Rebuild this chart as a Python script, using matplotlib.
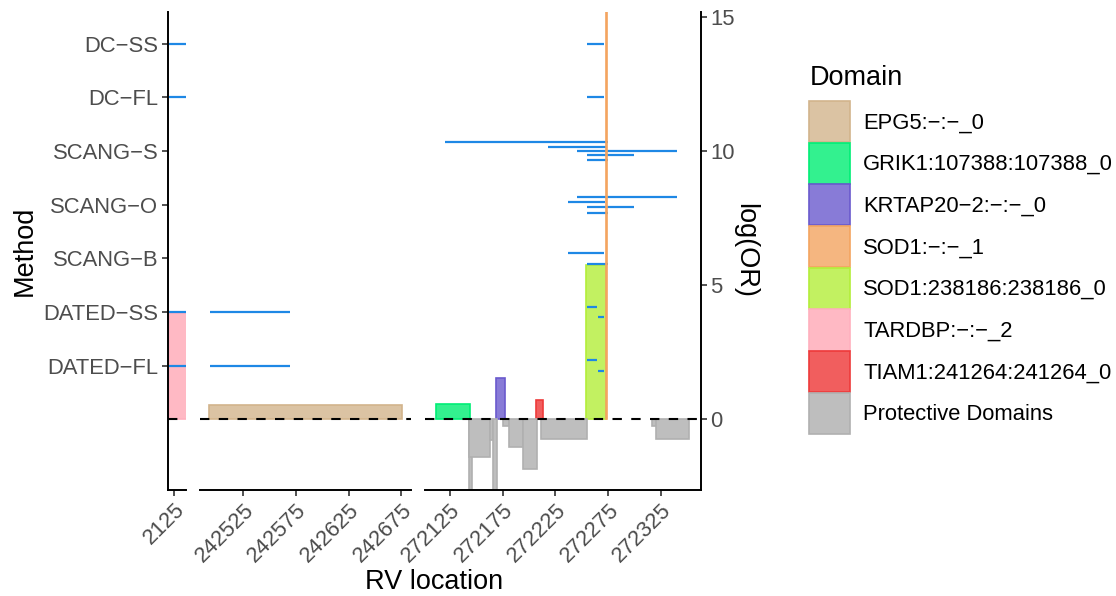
import matplotlib
matplotlib.use("Agg")
import matplotlib.pyplot as plt
from matplotlib.patches import Rectangle, Patch

plt.rcParams['font.family'] = ['Liberation Sans', 'DejaVu Sans']

# methods sit on the log(OR) scale, two units apart
methods = ["DATED−FL", "DATED−SS", "SCANG−B", "SCANG−O", "SCANG−S", "DC−FL", "DC−SS"]
method_y = [2, 4, 6, 8, 10, 12, 14]

domains = ["EPG5:−:−_0", "GRIK1:107388:107388_0", "KRTAP20−2:−:−_0", "SOD1:−:−_1",
           "SOD1:238186:238186_0", "TARDBP:−:−_2", "TIAM1:241264:241264_0",
           "Protective Domains"]
domain_fill = ["#DBC3A3", "#33F18F", "#887BD7", "#F5B680", "#C2F161", "#FFB9C4",
               "#F15E5E", "#BEBEBE"]
domain_edge = ["#D2B48C", "#00EE76", "#6A5ACD", "#F4A460", "#B3EE3A", "#FFB0BE",
               "#EE3B3B", "#B0B0B0"]

# domain rectangles (RV start, RV end, log(OR))
rect_domain = ["TARDBP:−:−_2", "EPG5:−:−_0",
               "GRIK1:107388:107388_0", "KRTAP20−2:−:−_0", "TIAM1:241264:241264_0",
               "SOD1:238186:238186_0", "SOD1:−:−_1",
               "Protective Domains", "Protective Domains", "Protective Domains",
               "Protective Domains", "Protective Domains", "Protective Domains",
               "Protective Domains", "Protective Domains", "Protective Domains",
               "Protective Domains"]
rect_start = [2120.5, 242492.5,
              272111.7, 272168.9, 272206.6,
              272253.7, 272272.7,
              272143.3, 272143.3, 272163.0, 272166.1, 272175.6, 272181.3,
              272194.5, 272211.3, 272316.9, 272320.4]
rect_end = [2137.0, 242675.9,
            272144.0, 272176.9, 272213.0,
            272272.7, 272274.0,
            272146.2, 272163.0, 272166.1, 272169.9, 272181.3, 272194.5,
            272207.8, 272254.7, 272321.1, 272351.8]
rect_logor = [3.95, 0.55,
              0.58, 1.53, 0.73,
              5.75, 16.0,
              -3.5, -1.41, -0.77, -3.5, -0.24, -1.03,
              -1.86, -0.74, -0.24, -0.74]

# RV spans found by each method
seg_method = ["DC−SS", "DC−FL", "DATED−SS", "DATED−FL",
              "DATED−SS", "DATED−FL",
              "DC−SS", "DC−FL",
              "SCANG−S", "SCANG−S", "SCANG−S", "SCANG−S", "SCANG−S",
              "SCANG−O", "SCANG−O", "SCANG−O", "SCANG−O",
              "SCANG−B", "SCANG−B",
              "DATED−SS", "DATED−SS", "DATED−FL", "DATED−FL"]
seg_start = [2120.5, 2120.5, 2120.5, 2120.5,
             242493.5, 242493.5,
             272254.7, 272254.7,
             272120.3, 272218.3, 272245.8, 272254.7, 272254.7,
             272245.8, 272236.7, 272254.7, 272254.7,
             272237.2, 272254.7,
             272254.7, 272265.7, 272254.7, 272265.7]
seg_end = [2136.5, 2136.5, 2136.5, 2136.5,
           242569.0, 242569.0,
           272271.4, 272271.4,
           272274.6, 272272.7, 272340.7, 272299.6, 272274.6,
           272340.7, 272271.8, 272299.6, 272274.6,
           272271.4, 272274.6,
           272264.5, 272271.4, 272264.5, 272271.4]

panel_ticks = [[2125], [242525, 242575, 242625, 242675],
               [272125, 272175, 272225, 272275, 272325]]
panel_xlim = [(2119.3, 2136.4), (242483.9, 242683.8), (272101.3, 272362.9)]
right_ticks = [0, 5, 10, 15]

TXT, TTL = 15.8, 19.5

W, H = 1116, 596
fig = plt.figure(figsize=(W / 100, H / 100), dpi=100)

# panel extents in pixels (left, right)
panel_px = [(168, 186), (200, 410.7), (425, 700.7)]
top_px, bot_px = 12, 489.5
ylim = (-2.61, 15.18)

fill_of = dict(zip(domains, domain_fill))
edge_of = dict(zip(domains, domain_edge))
ypos_of = dict(zip(methods, method_y))

axes = []
for i, (l, r) in enumerate(panel_px):
    ax = fig.add_axes([l / W, (H - bot_px) / H, (r - l) / W, (bot_px - top_px) / H])
    ax.set_xlim(*panel_xlim[i])
    ax.set_ylim(*ylim)
    lo, hi = panel_xlim[i]

    # domain rectangles
    for d, s, e, v in zip(rect_domain, rect_start, rect_end, rect_logor):
        if s > hi or e < lo:
            continue
        z = 2.5 if d == "SOD1:−:−_1" else 1
        ax.add_patch(Rectangle((s, 0), e - s, v, facecolor=fill_of[d],
                               edgecolor=edge_of[d], lw=1.2, zorder=z))

    # method segments, dodged within each method
    idx = [k for k in range(len(seg_method)) if lo <= seg_start[k] <= hi]
    for m in methods:
        rows = [k for k in idx if seg_method[k] == m]
        n = len(rows)
        for j, k in enumerate(rows):
            y = ypos_of[m] + ((n - 1) / 2 - j) * 0.8 / n if n > 1 else ypos_of[m]
            ax.plot([seg_start[k], seg_end[k]], [y, y], color="#1E88E5",
                    lw=1.6, solid_capstyle="butt", zorder=2)

    ax.axhline(0, color="black", lw=1.5, dashes=(4.5, 4.5), zorder=3)

    for sp in ax.spines.values():
        sp.set_visible(False)
    ax.spines['bottom'].set_visible(True)
    ax.spines['bottom'].set_linewidth(1.4)
    ax.set_xticks(panel_ticks[i])
    ax.set_xticklabels([str(t) for t in panel_ticks[i]], rotation=45, ha="right",
                       va="top", rotation_mode="anchor", fontsize=TXT, color="#4D4D4D")
    ax.tick_params(axis="x", length=4, width=1.2, color="#333333", pad=3)
    ax.tick_params(axis="y", length=4, width=1.2, color="#333333", pad=3,
                   labelsize=TXT, labelcolor="#4D4D4D")
    axes.append(ax)

ax1, ax2, ax3 = axes
ax1.spines['left'].set_visible(True)
ax1.spines['left'].set_linewidth(1.4)
ax1.set_yticks(method_y)
ax1.set_yticklabels(methods)
ax1.set_ylabel("Method", fontsize=TTL, labelpad=4)

ax2.set_yticks([])

ax3.spines['right'].set_visible(True)
ax3.spines['right'].set_linewidth(1.4)
ax3.yaxis.tick_right()
ax3.yaxis.set_label_position("right")
ax3.set_yticks(right_ticks)
ax3.set_yticklabels([str(t) for t in right_ticks])
ax3.set_ylabel("log(OR)", fontsize=TTL, rotation=-90, labelpad=17)

fig.text(434 / W, (H - 582) / H, "RV location", ha="center", va="center", fontsize=TTL)

# legend: title placed on its own, keys below
fig.text(810 / W, (H - 85) / H, "Domain", ha="left", va="baseline", fontsize=TTL)
handles = [Patch(facecolor=f, edgecolor=e, lw=1.2) for f, e in zip(domain_fill, domain_edge)]
leg = fig.legend(handles, domains, loc="upper left", bbox_to_anchor=(809 / W, (H - 101) / H),
                 frameon=False, fontsize=TXT,
                 handlelength=1.87, handleheight=2.5, labelspacing=0.03,
                 handletextpad=0.6, borderaxespad=0, borderpad=0)

fig.savefig("out.png", dpi=100)
